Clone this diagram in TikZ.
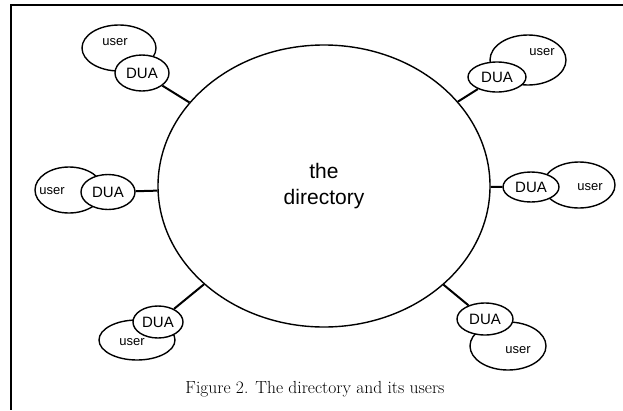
\documentclass[tikz,border=0pt]{standalone}
\usepackage{fontspec}
\setsansfont{Liberation Sans}
\usetikzlibrary{shapes.geometric}

\begin{document}
\begin{tikzpicture}[x=1pt, y=-1pt,
    oval/.style={ellipse, draw, line width=1.4pt, fill=white, inner sep=0pt},
    usr/.style={oval, font=\sffamily\fontsize{13}{13}\selectfont},
    dua/.style={oval, font=\sffamily\fontsize{15}{15}\selectfont},
    link/.style={line width=2pt}]
    \useasboundingbox (0,0) rectangle (623,410);

    % frame
    \coordinate (fa) at (623,5);
    \coordinate (fb) at (11,5);
    \coordinate (fc) at (11,410);
    \draw[line width=1.8pt] (fa) -- (fb) -- (fc);

    \node[oval, minimum width=332pt, minimum height=282pt, align=center,
          font=\sffamily\fontsize{21}{26}\selectfont] (dir) at (324,186) {the\\directory};

    % users first, DUAs over them
    \node[usr, minimum width=74pt, minimum height=46pt] (usr1) at (119,48) {};
    \node[usr, minimum width=76pt, minimum height=50pt] (usr2) at (528,60) {};
    \node[usr, minimum width=68pt, minimum height=46pt] (usr3) at (69,190) {};
    \node[usr, minimum width=72pt, minimum height=46pt] (usr4) at (579,185) {};
    \node[usr, minimum width=76pt, minimum height=40pt] (usr5) at (137,340) {};
    \node[usr, minimum width=76pt, minimum height=48pt] (usr6) at (508,346) {};

    \node[usr, draw=none, fill=none] (usr1t) at (115,42) {user};
    \node[usr, draw=none, fill=none] (usr2t) at (542,52) {user};
    \node[usr, draw=none, fill=none] (usr3t) at (52,191) {user};
    \node[usr, draw=none, fill=none] (usr4t) at (590,187) {user};
    \node[usr, draw=none, fill=none] (usr5t) at (132,342) {user};
    \node[usr, draw=none, fill=none] (usr6t) at (518,350) {user};

    \node[dua, minimum width=54pt, minimum height=36pt] (dua1) at (142,73) {DUA};
    \node[dua, minimum width=58pt, minimum height=30pt] (dua2) at (497,77) {DUA};
    \node[dua, minimum width=54pt, minimum height=35pt] (dua3) at (108,192) {DUA};
    \node[dua, minimum width=56pt, minimum height=30pt] (dua4) at (531,187) {DUA};
    \node[dua, minimum width=50pt, minimum height=32pt] (dua5) at (158,322) {DUA};
    \node[dua, minimum width=56pt, minimum height=32pt] (dua6) at (485,319) {DUA};

    \foreach \i in {1,...,6}
        \draw[link] (dua\i) -- (dir);

    \node[font=\fontsize{17.5}{17.5}\selectfont] (cap) at (315,389)
        {Figure 2. The directory and its users};
\end{tikzpicture}
\end{document}
